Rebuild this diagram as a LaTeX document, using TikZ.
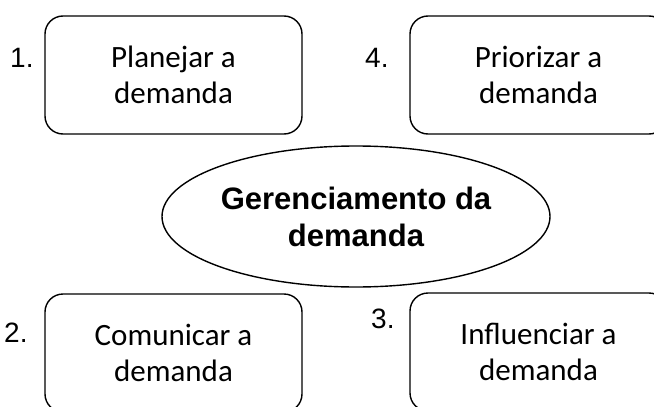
\documentclass[tikz,border=0pt]{standalone}
\usepackage{fontspec}
\setmainfont{Carlito}
\newfontfamily\arialfont{Liberation Sans}
\usetikzlibrary{shapes.geometric}
\tikzset{
  taskbox/.style={draw=black, line width=1.4pt, rounded corners=18pt,
    minimum width=257pt, minimum height=118pt, inner sep=0pt,
    align=center, font=\fontsize{31}{35.5}\selectfont},
  numlabel/.style={anchor=base west, inner sep=0pt, font=\arialfont\fontsize{28}{30}\selectfont},
  mainellipse/.style={draw=black, line width=1.4pt, ellipse, minimum width=388pt,
    minimum height=141pt, inner sep=0pt, align=center,
    font=\arialfont\bfseries\fontsize{31}{37}\selectfont}
}
\begin{document}
\begin{tikzpicture}[x=1pt,y=1pt]
\useasboundingbox (0,0) rectangle (654,-407);
\fill[white] (0,0) rectangle (654,-407);
\node[taskbox] (b1) at (173.5,-75) {Planejar a\\demanda};
\node[taskbox] (b4) at (538.5,-75) {Priorizar a\\demanda};
\node[taskbox] (b2) at (173.5,-353) {Comunicar a\\demanda};
\node[taskbox] (b3) at (538.5,-352) {Influenciar a\\demanda};
\node[mainellipse] (e) at (356,-216.5) {Gerenciamento da\\demanda};
\node[numlabel] (n1) at (10,-67) {1.};
\node[numlabel] (n4) at (365,-67) {4.};
\node[numlabel] (n2) at (4,-342) {2.};
\node[numlabel] (n3) at (371,-328) {3.};
\end{tikzpicture}
\end{document}
